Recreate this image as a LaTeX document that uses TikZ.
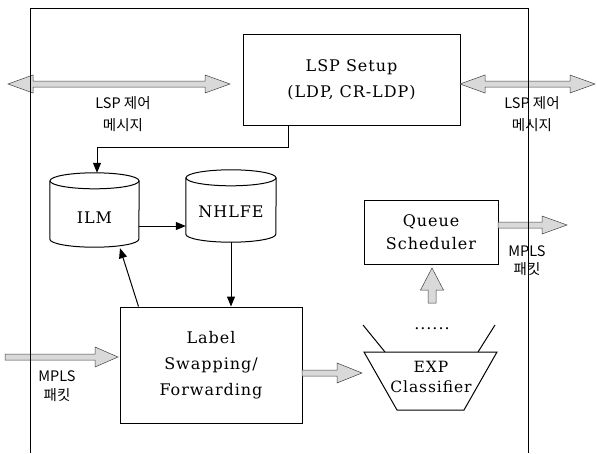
\documentclass[tikz,border=0pt]{standalone}
\usepackage{fontspec}
\setmainfont{DejaVu Serif}[LetterSpace=6]
\newfontfamily\kr{Noto Sans CJK KR}
\usetikzlibrary{arrows.meta,calc}
\begin{document}
\begin{tikzpicture}[x=1pt,y=-1pt,
  box/.style={draw, line width=1pt, inner sep=0pt, align=center, font=\fontsize{16}{26}\selectfont},
  cyltext/.style={inner sep=0pt, font=\fontsize{16}{20}\selectfont},
  cyl/.style={line width=1pt},
  lbl/.style={inner sep=0pt, align=center, font=\kr\fontsize{14.5}{22}\selectfont},
  arr/.style={-{Triangle[length=10pt,width=8pt]}, line width=1pt},
  fat/.style={draw=black!75, fill=gray!30, line width=0.5pt},
  pics/fatone/.style n args={4}{code={
    \draw[fat] (0,-#4) -- ({#1-#2},-#4) -- ({#1-#2},-#3) -- (#1,0) -- ({#1-#2},#3) -- ({#1-#2},#4) -- (0,#4) -- cycle;}},
  pics/fattwo/.style n args={4}{code={
    \draw[fat] (0,0) -- (#2,-#3) -- (#2,-#4) -- ({#1-#2},-#4) -- ({#1-#2},-#3) -- (#1,0) -- ({#1-#2},#3) -- ({#1-#2},#4) -- (#2,#4) -- (#2,#3) -- cycle;}}
]
\useasboundingbox (0,0) rectangle (597,453);

% boxes
\node[box, minimum width=217pt, minimum height=91pt] (lsp) at (351.5,79.5) {LSP Setup\\(LDP, CR-LDP)};
\node[box, minimum width=182pt, minimum height=116pt] (lsw) at (211,365) {Label\\Swapping/\\Forwarding};
\node[box, minimum width=134pt, minimum height=64pt, font=\fontsize{16}{23}\selectfont] (qs) at (431,232) {Queue\\Scheduler};

% cylinders
\node[minimum width=89pt, minimum height=74pt, inner sep=0pt] (ilm) at (94.5,210) {};
\draw[cyl] ($(ilm.north)+(0,8)$) ellipse [x radius=44.5pt, y radius=8pt];
\draw[cyl] ($(ilm.north west)+(0,8)$) -- ($(ilm.south west)+(0,-8)$) arc[start angle=180, end angle=360, x radius=44.5pt, y radius=8pt] -- ($(ilm.north east)+(0,8)$);
\node[cyltext] (ilmt) at ($(ilm.center)+(0,8)$) {ILM};

\node[minimum width=90pt, minimum height=72pt, inner sep=0pt] (nh) at (231,206) {};
\draw[cyl] ($(nh.north)+(0,8)$) ellipse [x radius=45pt, y radius=8pt];
\draw[cyl] ($(nh.north west)+(0,8)$) -- ($(nh.south west)+(0,-8)$) arc[start angle=180, end angle=360, x radius=45pt, y radius=8pt] -- ($(nh.north east)+(0,8)$);
\node[cyltext] (nht) at ($(nh.center)+(0,6)$) {NHLFE};

% classifier
\draw[line width=1pt] (364,352) -- (497,352) -- (464,410) -- (397,410) -- cycle;
\draw[line width=1pt] (363,325) -- (385,352);
\draw[line width=1pt] (495,325) -- (478,352);
\node[inner sep=0pt, align=center, font=\fontsize{15.5}{20}\selectfont] (exp) at (431,377) {EXP\\Classifier};
\node[inner sep=0pt, font=\fontsize{16}{16}\selectfont] (dots) at (432,329) {......};

% thin arrows
\draw[arr] ($(lsp.south west)+(46,0)$) -- ++(0,22) -| ($(ilm.north)+(2.5,0)$);
\coordinate (a1) at ($(ilm.east)+(0,16)$);
\draw[arr] (a1) -- (a1 -| nh.west);
\draw[arr] (nh.south) -- (nh.south |- lsw.north);
\draw[arr] ($(lsw.north west)+(19,0)$) -- ($(ilm.south)+(25.5,1)$);

% fat arrows
\pic at (8,84) {fattwo={222}{25}{9}{3}};
\pic at (460,84) {fattwo={135}{25}{9}{3}};
\pic at (5,357) {fatone={113}{23}{10}{3}};
\pic at (302,373) {fatone={60}{25}{10}{3}};
\pic at (498,225) {fatone={69}{25}{9}{3}};
\pic[rotate=90] at (432,303) {fatone={35}{22}{11.5}{4}};

% labels
\node[lbl] (l1) at (123,114) {LSP 제어\\메시지};
\node[lbl] (l2) at (532,114) {LSP 제어\\메시지};
\node[lbl, font=\kr\fontsize{14.5}{19}\selectfont] (l3) at (57,386) {MPLS\\패킷};
\node[lbl, font=\kr\fontsize{14.5}{18}\selectfont] (l4) at (527,261) {MPLS\\패킷};

% frame
\draw[line width=1pt] (30,453) -- (30,8) -- (528,8) -- (528,453);
\end{tikzpicture}
\end{document}
